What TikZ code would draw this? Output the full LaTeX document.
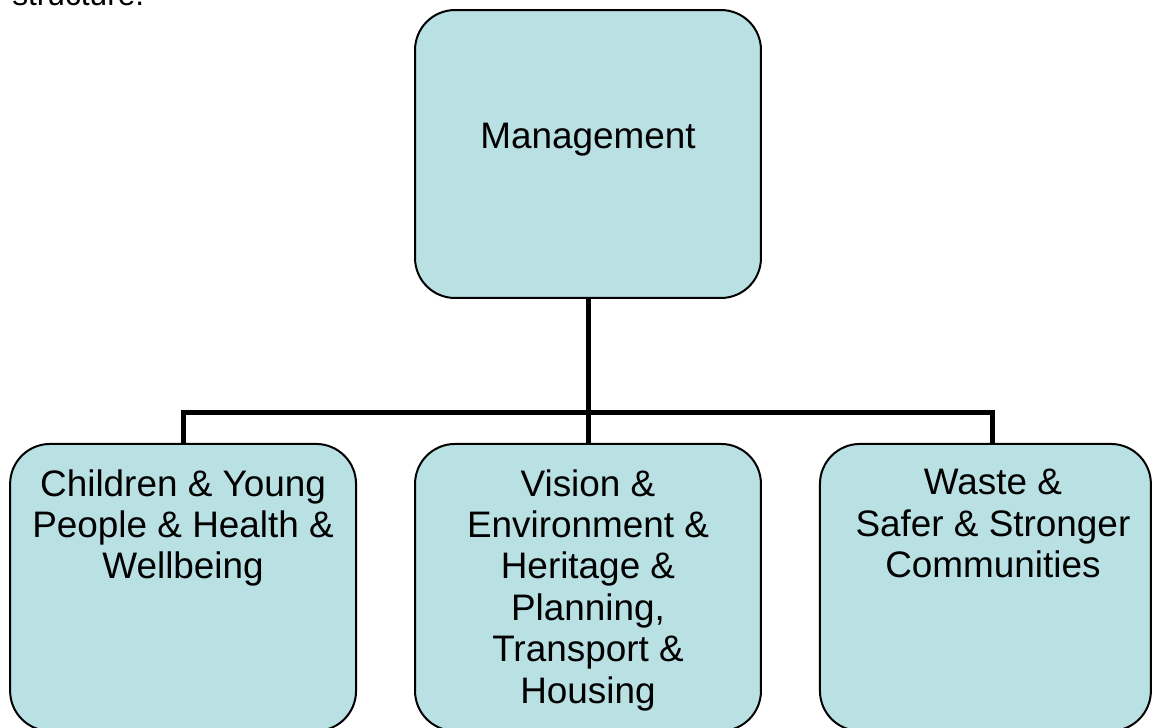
\documentclass[tikz,border=0pt]{standalone}
\usepackage{fontspec}
\setmainfont{Liberation Sans}
\usepackage{tikz}
\usetikzlibrary{positioning}

\definecolor{boxfill}{RGB}{185,224,227}

\tikzstyle{BOX_COLOR}=[fill=boxfill]
\tikzstyle{chart_box} = [rectangle, draw, line width=0.04cm, rounded corners=0.8cm, BOX_COLOR, minimum width=6.92cm]
\tikzstyle{head_box} = [chart_box, minimum height=5.76cm]
\tikzstyle{unit_box} = [chart_box, minimum height=5.74cm]
\tikzstyle{box_text} = [align=center, inner sep=0pt, anchor=north, font=\fontsize{21}{23.6}\selectfont]
\tikzstyle{org_line} = [line width=0.1cm]

\begin{document}
\begin{tikzpicture}[x=0.02cm, y=-0.02cm]
      \useasboundingbox (0,0) rectangle (1152,727);

      % caption cut by the page top
      \node[anchor=base west, inner sep=0pt, font=\fontsize{18}{21}\selectfont] (caption) at (12,5) {structure.};

      %%%%%%%%%%%%%%%%%%%%%%%%%%%%%%%%%%%%%%%%%%
      % MANAGEMENT
      %%%%%%%%%%%%%%%%%%%%%%%%%%%%%%%%%%%%%%%%%%
      \node[head_box] (MG) at (588,154) {};
      \node[box_text, below=2.28cm of MG.north] (MGT) {Management};

      %%%%%%%%%%%%%%%%%%%%%%%%%%%%%%%%%%%%%%%%%%
      % UNITS
      %%%%%%%%%%%%%%%%%%%%%%%%%%%%%%%%%%%%%%%%%%
      \node[unit_box, below=2.88cm of MG.south, anchor=north] (VE) {};
      \node[unit_box, left=1.14cm of VE] (CY) {};
      \node[unit_box, minimum width=6.62cm, right=1.14cm of VE] (WS) {};

      \node[box_text, below=0.52cm of CY.north] (CYT) {Children \& Young\\People \& Health \&\\Wellbeing};
      \node[box_text, below=0.52cm of VE.north] (VET) {Vision \&\\Environment \&\\Heritage \&\\Planning,\\Transport \&\\Housing};
      \node[box_text, below=0.52cm of WS.north, xshift=0.15cm] (WST) {Waste \&\\Safer \& Stronger\\Communities};

      % connectors
      \coordinate[below=2.28cm of MG.south] (bus);
      \coordinate[xshift=0.15cm] (WSin) at (WS.north);
      \draw[org_line] (MG.south) -- (VE.north);
      \draw[org_line] (CY.north) |- (bus) -| (WSin);

\end{tikzpicture}
\end{document}
